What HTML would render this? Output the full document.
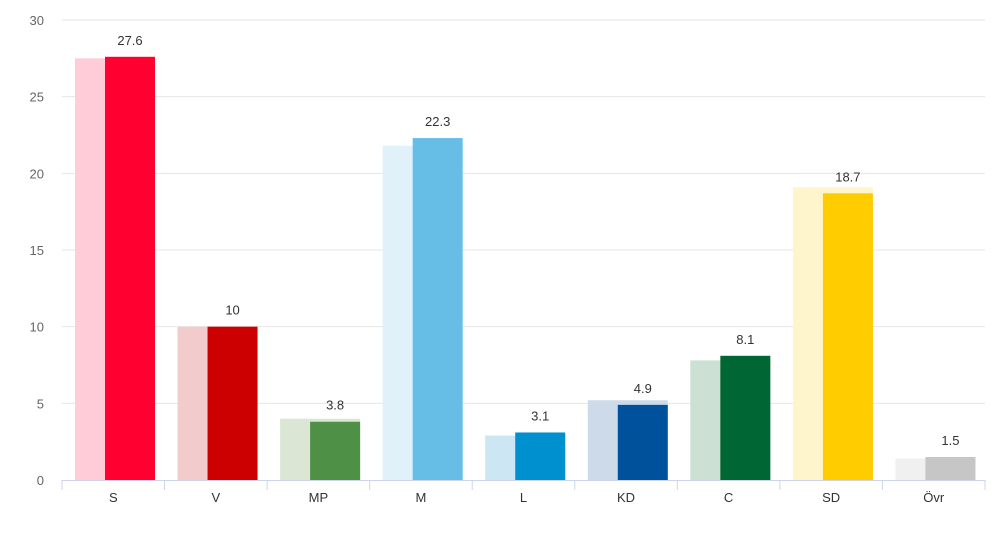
<!DOCTYPE html>
<html><head><meta charset="utf-8"><style>
body{margin:0;background:#fff;font-family:"Liberation Sans",sans-serif}
svg text{font-family:"Liberation Sans",sans-serif}
</style></head><body>
<svg id="chart" width="1007" height="529" viewBox="0 0 1007 529" xmlns="http://www.w3.org/2000/svg">
<g id="grid"></g>
<g id="yaxis"></g>
<g id="bars"></g>
<g id="xaxis"></g>
</svg>
<script>
const categories=["S","V","MP","M","L","KD","C","SD","Övr"];
const previousValues=[27.5,10.0,4.0,21.8,2.9,5.2,7.8,19.1,1.4];
const currentValues=[27.6,10,3.8,22.3,3.1,4.9,8.1,18.7,1.5];
const yTicks=[0,5,10,15,20,25,30];
const lightColors=["#ffccd7","#f2cccc","#dce6d5","#e0f1fa","#cce6f3","#ccdae9","#cce0d4","#fff5cc","#f0f0f0"];
const darkColors=["#ff0030","#cc0000","#4e9146","#66bee6","#0090d0","#00519c","#006633","#ffcc00","#c6c6c6"];
const NS="http://www.w3.org/2000/svg";
const x0=62,x1=985,yBase=480,yTop=20,yMax=30;
const bw=(x1-x0)/categories.length;
function y(v){return yBase-(v/yMax)*(yBase-yTop);}
function xc(i){return x0+i*bw;}
function mk(tag,attrs,parent,text){const e=document.createElementNS(NS,tag);for(const k in attrs)e.setAttribute(k,attrs[k]);if(text!==undefined)e.textContent=text;parent.appendChild(e);return e;}
const grid=document.getElementById('grid'),ya=document.getElementById('yaxis'),bars=document.getElementById('bars'),xa=document.getElementById('xaxis');
yTicks.forEach(t=>{
 if(t>0){const l=mk('line',{x1:x0,x2:x1,y1:y(t),y2:y(t),stroke:'#e6e6e6','stroke-width':1},grid);
 
 }
 const tx=mk('text',{x:44,y:y(t)+5,'text-anchor':'end','font-size':13,fill:'#666'},ya,String(t));
 
 
});
categories.forEach((c,i)=>{
 const bx=xc(i);
 const b1=mk('rect',{x:bx+13,y:y(previousValues[i]),width:80,height:yBase-y(previousValues[i]),fill:lightColors[i]},bars);
 
 
 const b2=mk('rect',{x:bx+43,y:y(currentValues[i]),width:50,height:yBase-y(currentValues[i]),fill:darkColors[i]},bars);
 
 
 const lb=mk('text',{x:bx+68,y:y(currentValues[i])-12,'text-anchor':'middle','font-size':13,fill:'#333'},bars,String(currentValues[i]));
 
 
 const cl=mk('text',{x:bx+bw/2,y:502,'text-anchor':'middle','font-size':13,fill:'#333'},xa,c);
 
 
});
const al=mk('line',{x1:x0,x2:x1,y1:yBase+0.5,y2:yBase+0.5,stroke:'#ccd6eb','stroke-width':1},xa);


for(let i=0;i<=categories.length;i++){
 const tk=mk('line',{x1:xc(i),x2:xc(i),y1:yBase,y2:yBase+10,stroke:'#ccd6eb','stroke-width':1},xa);
 
 
}
</script>
</body></html>
